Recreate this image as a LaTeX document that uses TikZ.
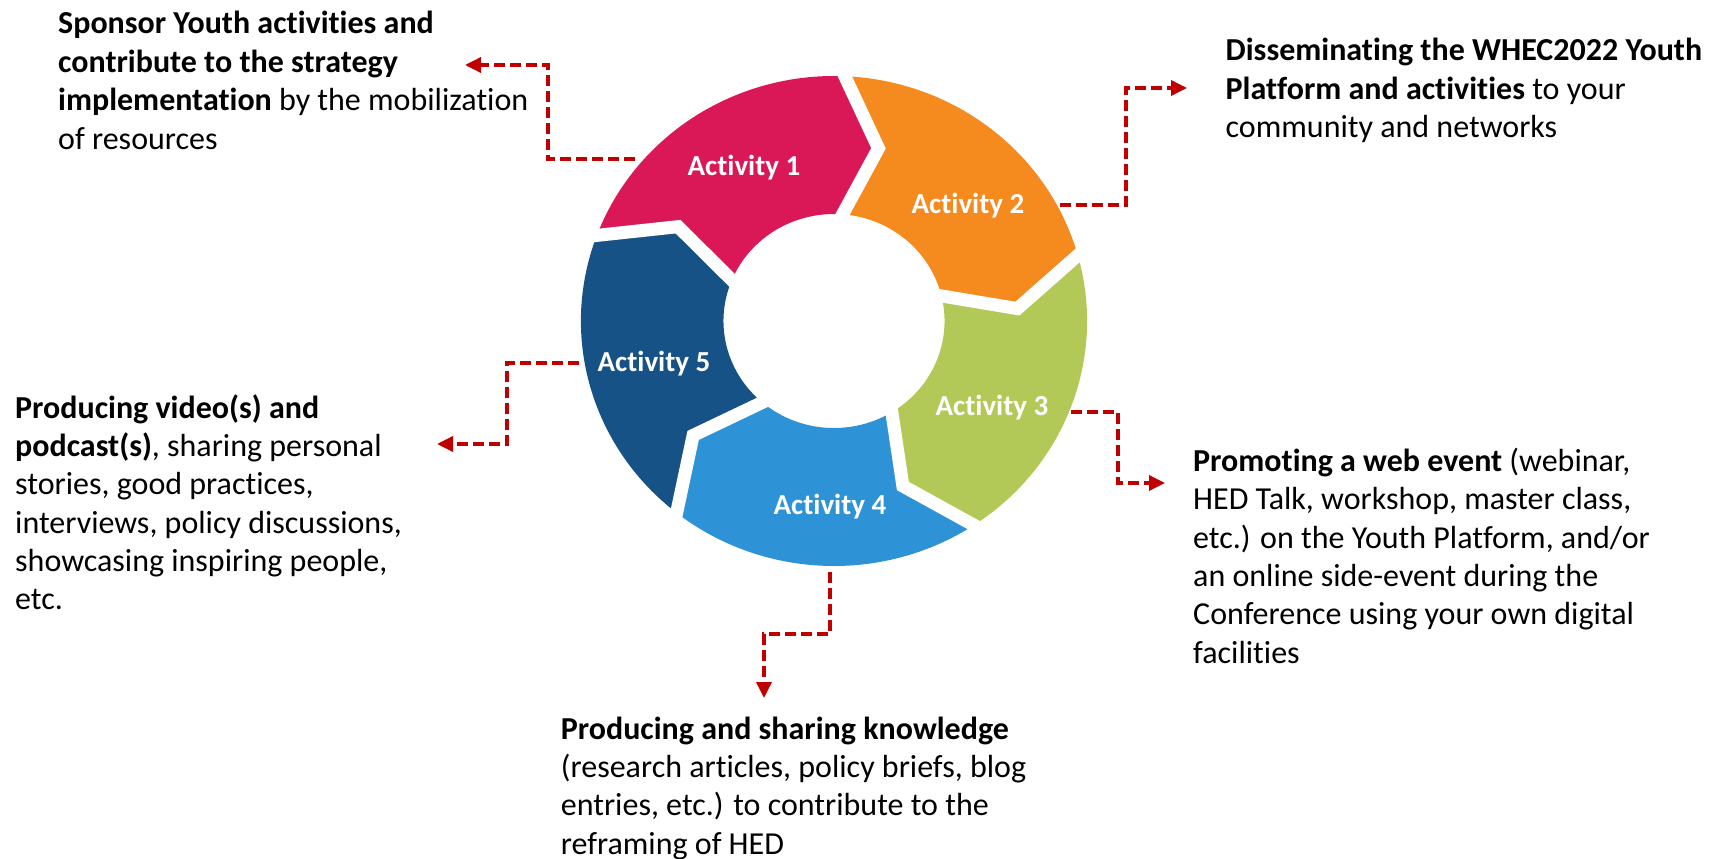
\documentclass[tikz,border=0pt]{standalone}
\usepackage{fontspec}
\setmainfont{Carlito}[Ligatures=NoCommon]
\usetikzlibrary{arrows.meta}
\definecolor{cA}{HTML}{DB1857}
\definecolor{cB}{HTML}{F58A1F}
\definecolor{cC}{HTML}{B3C957}
\definecolor{cD}{HTML}{2E92D6}
\definecolor{cE}{HTML}{175287}
\definecolor{cRed}{HTML}{C00000}
\newcommand{\blk}[1]{\begin{tabular}[t]{@{}l@{}}#1\end{tabular}}
\begin{document}
\begin{tikzpicture}[x=1pt,y=-1pt,
  conn/.style={draw=cRed, line width=3.5pt, dash pattern=on 11pt off 5pt, -{Triangle[length=16pt,width=15pt]}},
  txt/.style 2 args={anchor=base west, inner sep=0pt, font=\fontsize{#1}{#2}\selectfont},
  act/.style={anchor=base, inner sep=0pt, text=white, font=\fontsize{29}{34}\selectfont\bfseries},
  gap/.style={white, line width=13pt, line join=miter}]
\useasboundingbox (0,0) rectangle (1709,859);
\begin{scope}[shift={(834,321)}, yscale=-1, xscale=1.033]
  \foreach \S/\col in {161/cA, 89/cB, 17/cC, -55/cD, -127/cE} {
    \pgfmathsetmacro\E{\S-72}
    \pgfmathsetmacro\Et{\S-85}
    \pgfmathsetmacro\St{\S-13}
    \fill[\col] (\S:245) arc[start angle=\S, end angle=\E, radius=245]
      -- (\Et:178) -- (\E:107) arc[start angle=\E, end angle=\S, radius=107]
      -- (\St:178) -- cycle;
  }
  \foreach \S in {161,89,17,-55,-127} {
    \pgfmathsetmacro\St{\S-13}
    \draw[gap] (\S:258) -- (\St:178) -- (\S:94);
  }
\end{scope}
\node[act] (a1) at (744,175) {Activity 1};
\node[act] (a2) at (968,213) {Activity 2};
\node[act] (a3) at (992,415) {Activity 3};
\node[act] (a4) at (830,514) {Activity 4};
\node[act] (a5) at (654,371) {Activity 5};

\node[txt={32}{38.4}] (t1) at (58,34) {\blk{\textbf{Sponsor Youth activities and}\\
\textbf{contribute to the strategy}\\
\textbf{implementation} by the mobilization\\
of resources}};
\node[txt={32}{38.3}] (t2) at (1225.5,61) {\blk{\textbf{Disseminating the WHEC2022 Youth}\\
\textbf{Platform and activities} to your\\
community and networks}};
\node[txt={32}{38.2}] (t5) at (15,418.5) {\blk{\textbf{Producing video(s) and}\\
\textbf{podcast(s)}, sharing personal\\
stories, good practices,\\
interviews, policy discussions,\\
showcasing inspiring people,\\
etc.}};
\node[txt={32}{38.3}] (t3) at (1193,471.5) {\blk{\textbf{Promoting a web event} (webinar,\\
HED Talk, workshop, master class,\\
etc.) on the Youth Platform, and/or\\
an online side-event during the\\
Conference using your own digital\\
facilities}};
\node[txt={32}{38.4}] (t4) at (560.7,739) {\blk{\textbf{Producing and sharing knowledge}\\
(research articles, policy briefs, blog\\
entries, etc.) to contribute to the\\
reframing of HED}};

\coordinate (s1) at (635,159); \coordinate (k1) at (548,159); \coordinate (e1) at (465,65);
\coordinate (s2) at (1060,205); \coordinate (k2) at (1126,205); \coordinate (e2) at (1187,88);
\coordinate (s3) at (1071,412); \coordinate (k3) at (1118,412); \coordinate (e3) at (1165,483);
\coordinate (s4) at (830,572); \coordinate (k4) at (830,634); \coordinate (e4) at (764,698);
\coordinate (s5) at (579,363); \coordinate (k5) at (507,363); \coordinate (e5) at (437,444);
\draw[conn] (s1) -- (k1) |- (e1);
\draw[conn] (s2) -- (k2) |- (e2);
\draw[conn] (s3) -- (k3) |- (e3);
\draw[conn] (s4) -- (k4) -| (e4);
\draw[conn] (s5) -- (k5) |- (e5);
\end{tikzpicture}
\end{document}
